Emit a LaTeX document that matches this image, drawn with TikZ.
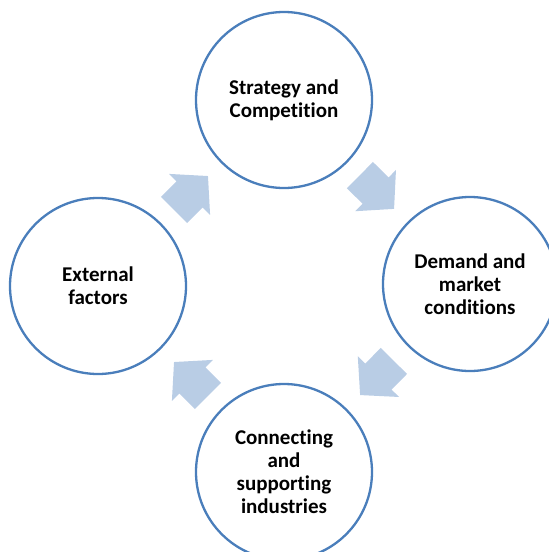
\documentclass[tikz,border=0pt]{standalone}
\usepackage{fontspec}
\setmainfont{Carlito}[Ligatures=NoCommon]
\definecolor{ringblue}{RGB}{74,126,187}
\definecolor{arrowfill}{RGB}{185,205,229}
\tikzset{
  x=1pt, y=-1pt,
  circ/.style={circle, draw=ringblue, line width=2.3pt, fill=white, inner sep=0pt,
    minimum size=#1, align=center, font=\fontsize{21}{23}\selectfont\bfseries, text=black},
  pics/blockarrow/.style={code={
    \fill[arrowfill] (-24,-18.5) -- (-2,-18.5) -- (-2,-29) -- (24,0) -- (-2,29) -- (-2,18.5) -- (-24,18.5) -- cycle;
  }}
}
\begin{document}
\begin{tikzpicture}
\useasboundingbox (0,0) rectangle (549,552);
\clip (0,0) rectangle (549,552);
\node[circ=176pt] (T) at (284,100) {Strategy and\\Competition};
\node[circ=174pt] (R) at (470,284) {Demand and\\market\\conditions};
\node[circ=176pt] (B) at (284,472) {Connecting\\and\\supporting\\industries};
\node[circ=176pt] (L) at (98,286) {External\\factors};
\path (L.center) -- (T.center) pic[pos=0.5, sloped, allow upside down] {blockarrow};
\path (T.center) -- (R.center) pic[pos=0.5, sloped, allow upside down] {blockarrow};
\path (R.center) -- (B.center) pic[pos=0.5, sloped, allow upside down] {blockarrow};
\path (B.center) -- (L.center) pic[pos=0.5, sloped, allow upside down] {blockarrow};
\end{tikzpicture}
\end{document}
